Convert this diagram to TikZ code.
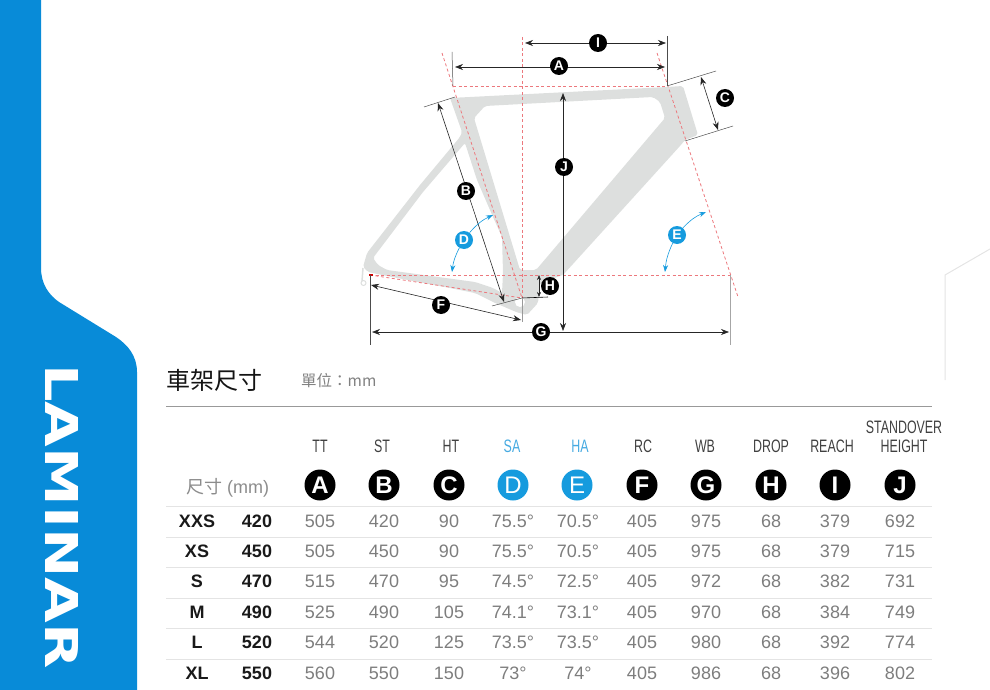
\documentclass[tikz,border=0pt]{standalone}
\usepackage{fontspec}
\usepackage{graphicx}
\setmainfont{Liberation Sans}
\newfontfamily\cjkfont{Noto Sans CJK TC}
\newfontfamily\narrowfont[FakeStretch=0.69]{Liberation Sans}
\newfontfamily\logofont{DejaVu Sans}
\usetikzlibrary{arrows.meta, positioning, calc}
\definecolor{sidecolor}{RGB}{8,139,216}
\definecolor{dotblue}{RGB}{22,155,222}
\definecolor{headblue}{RGB}{70,170,225}
\definecolor{framecolor}{RGB}{221,223,222}
\definecolor{dashcolor}{RGB}{236,120,125}
\definecolor{valuecolor}{RGB}{125,125,125}
\definecolor{rulecolor}{RGB}{228,228,228}
\tikzset{
    dimline/.style={black!85, line width=0.6pt, {Stealth[length=8pt,width=6pt]}-{Stealth[length=8pt,width=6pt]}},
    extline/.style={black!70, line width=0.5pt},
    axisline/.style={dashcolor, line width=0.8pt, dash pattern=on 3pt off 2.5pt},
    anglearrow/.style={dotblue, line width=0.6pt, -{Stealth[length=7pt,width=5pt]}},
    dimdot/.style={circle, fill=black, text=white, inner sep=0pt, minimum size=18pt, font=\fontsize{14}{14}\selectfont\bfseries},
    tabledot/.style={circle, fill=black, text=white, inner sep=0pt, minimum size=31pt, font=\fontsize{24}{24}\selectfont\bfseries},
    headtext/.style={font=\fontsize{18}{18}\narrowfont, text=black!75, anchor=center},
    valuetext/.style={font=\fontsize{18}{18}\selectfont, text=valuecolor},
    sizetext/.style={font=\fontsize{18}{18}\selectfont\bfseries, text=black!90}
}
\begin{document}
\begin{tikzpicture}[x=1pt, y=-1pt]
    \useasboundingbox (0,0) rectangle (990,690);

    % Side band
    \fill[sidecolor] (0,0) -- (41,0) -- (41,268) .. controls (41,284) and (49,295) .. (59,302)
        -- (116,337) .. controls (128,345) and (137,356) .. (137,372) -- (137,690) -- (0,690) -- cycle;
    \node[white, rotate=-90, inner sep=0pt] (logo) at (62.5,516.5)
        {\resizebox{304pt}{33pt}{\logofont\bfseries LAMINAR}};

    % Faint outline on the right
    \draw[rulecolor, line width=1pt] (990,249) -- (945,275) -- (945,380);

    % Frame
    \fill[framecolor, even odd rule, rounded corners=2pt]
        (450,98) -- (667,87) -- (683,86) -- (698,135) -- (685,140) -- (680,146) -- (563,275) -- (540,283)
        -- (538,303) -- (527,315) -- (516,312) -- (493,302) -- (475,293) -- (450,288) -- (387,276)
        -- (368,272) -- (363,267) -- (367,253) -- (420,185) -- (460,137) -- (462,132) -- cycle
        (474,118) -- (485,106) -- (653,97) -- (660,102) -- (665,118) -- (536,270) -- (520,270) -- cycle
        (465,143) -- (477,180) -- (493,217) -- (502,237) -- (503,273) -- (502,293) -- (493,288)
        -- (475,282) -- (387,270) -- (378,265) -- (373,258) -- (423,192) -- cycle;
    \fill[white] (520,302) circle (5pt);
    \draw[framecolor, line width=1pt] (363.5,283) circle (2.5pt);
    \draw[framecolor, line width=1.5pt] (363,268) -- (362,281);

    % Centre lines
    \coordinate (topleft) at (453,86);
    \coordinate (topright) at (667,86);
    \coordinate (bbcentre) at (522,298);
    \coordinate (rearaxle) at (370,275);
    \coordinate (frontaxle) at (730,275);
    \draw[axisline] (topleft) -- (topright);
    \draw[axisline] (442,53) -- (bbcentre);
    \draw[axisline] (657,53) -- (738,297);
    \draw[axisline] (522,37) -- (bbcentre);
    \draw[axisline] (rearaxle) -- (frontaxle);
    \draw[axisline] (rearaxle) -- (bbcentre);
    \fill[red!80!black] (369,274) rectangle (373,276);

    % Extension lines
    \coordinate (ctoptick) at (716,71);
    \coordinate (cbottick) at (733,126);
    \coordinate (cbotstart) at (685,141);
    \coordinate (stoptick) at (424,107);
    \coordinate (stopend) at (455,97);
    \coordinate (sbottick) at (492,306);
    \coordinate (hbottick) at (548,297);
    \draw[extline] (452,52) -- (topleft);
    \draw[extline] (667,36) -- (topright);
    \draw[extline] (topright) -- (ctoptick);
    \draw[extline] (cbotstart) -- (cbottick);
    \draw[extline] (stoptick) -- (stopend);
    \draw[extline] (sbottick) -- (bbcentre);
    \draw[black, line width=0.6pt] (bbcentre) -- (hbottick);
    \draw[black!40, line width=0.7pt] (bbcentre) -- (522,322);
    \draw[extline] (rearaxle) -- (370,345);
    \draw[black!35, line width=0.8pt] (frontaxle) -- (730,345);

    % Dimension arrows
    \draw[dimline] (525,43) -- (666,43);
    \draw[dimline] (455,67) -- (665,67);
    \draw[dimline] (701,77) -- (718,130);
    \draw[dimline] (438,103) -- (504,302);
    \draw[dimline] (563,93) -- (563,331);
    \draw[dimline, line width=0.5pt, {Stealth[length=5pt,width=4pt]}-{Stealth[length=5pt,width=4pt]}] (539,275) -- (539,297);
    \draw[dimline] (371,285) -- (521,320);
    \draw[dimline] (372,332) -- (729,332);

    % Dimension dots
    \node[dimdot] (dimI) at (598,43) {I};
    \node[dimdot] (dimA) at (559,66) {A};
    \node[dimdot] (dimC) at (725,98) {C};
    \node[dimdot] (dimJ) at (564,167) {J};
    \node[dimdot] (dimB) at (466,191) {B};
    \node[dimdot, fill=dotblue] (dimD) at (464,240) {D};
    \node[dimdot, fill=dotblue] (dimE) at (677,235) {E};
    \node[dimdot] (dimH) at (550,286) {H};
    \node[dimdot] (dimF) at (441,305) {F};
    \node[dimdot] (dimG) at (541,332) {G};

    % Angle arrows
    \draw[anglearrow] (dimD) to[bend left=12] (493,215);
    \draw[anglearrow] (dimD) to[bend right=10] (452,272);
    \draw[anglearrow] (dimE) to[bend left=12] (706,212);
    \draw[anglearrow] (dimE) to[bend right=10] (665,272);

    % Title
    \node[anchor=west, inner sep=0pt, font=\fontsize{24}{24}\cjkfont, text=black!92] (title) at (166,380) {車架尺寸};
    \node[anchor=west, inner sep=0pt, font=\fontsize{15.5}{16}\cjkfont, text=black!50] (unit) at (301,381) {單位：mm};
    \draw[black!40, line width=0.8pt] (166,406) -- (932,406);

    % Header row
    \foreach \lbl/\cx in {TT/320, ST/382, HT/451, RC/643, WB/705, DROP/771, REACH/832, HEIGHT/904}
        \node[headtext] (head-\lbl) at (\cx,446) {\lbl};
    \node[headtext] (head-STANDOVER) at (904,427) {STANDOVER};
    \node[headtext, text=headblue] (head-SA) at (512,446) {SA};
    \node[headtext, text=headblue] (head-HA) at (580,446) {HA};
    \node[anchor=west, inner sep=0pt, font=\fontsize{18}{18}\selectfont, text=black!45] (sizehead) at (186,488) {{\cjkfont 尺寸} (mm)};

    % Letter row
    \foreach \lbl/\cx in {A/320, B/384, C/449, F/642, G/706, H/771, I/835, J/900}
        \node[tabledot] (dot-\lbl) at (\cx,485) {\lbl};
    \node[tabledot, fill=dotblue, font=\fontsize{24}{24}\selectfont] (dot-D) at (513,485) {D};
    \node[tabledot, fill=dotblue, font=\fontsize{24}{24}\selectfont] (dot-E) at (577,485) {E};

    % Table rows
    \foreach \ruley in {506,537,567,598,628,659}
        \draw[rulecolor, line width=0.8pt] (166,\ruley) -- (932,\ruley);
    \foreach \rowy/\sz/\mm/\va/\vb/\vc/\vd/\ve/\vf/\vg/\vh/\vi/\vj in {
        521/XXS/420/505/420/90/75.5°/70.5°/405/975/68/379/692,
        551/XS/450/505/450/90/75.5°/70.5°/405/975/68/379/715,
        581/S/470/515/470/95/74.5°/72.5°/405/972/68/382/731,
        612/M/490/525/490/105/74.1°/73.1°/405/970/68/384/749,
        642/L/520/544/520/125/73.5°/73.5°/405/980/68/392/774,
        673/XL/550/560/550/150/73°/74°/405/986/68/396/802} {
        \node[sizetext] (size-\rowy) at (197,\rowy) {\sz};
        \node[sizetext] (mm-\rowy) at (257,\rowy) {\mm};
        \foreach \val/\cx in {\va/320, \vb/384, \vc/449, \vd/513, \ve/578, \vf/642, \vg/706, \vh/771, \vi/835, \vj/900}
            \node[valuetext] (val-\rowy-\cx) at (\cx,\rowy) {\val};
    }
\end{tikzpicture}
\end{document}
